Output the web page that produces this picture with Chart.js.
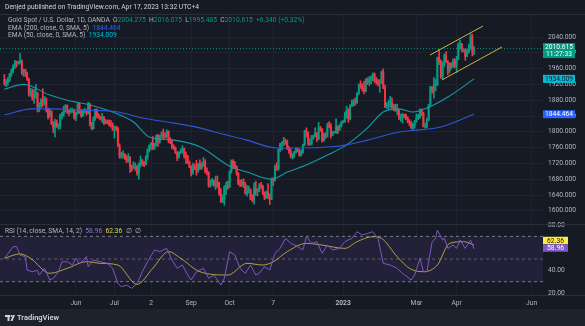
<!DOCTYPE html>
<html>
<head>
<meta charset="utf-8">
<script src="https://cdn.jsdelivr.net/npm/chart.js@4.4.0/dist/chart.umd.min.js"></script>
<style>
  html, body { margin: 0; padding: 0; background: #161a25; }
</style>
</head>
<body>
<canvas id="chart" width="585" height="326"></canvas>
<script>
// XAUUSD daily, one entry per weekday from Apr 5 2022 to Apr 17 2023
const firstOpen = 1933;
const closes = [
  1923,1925,1931,1946,1954,1966,1977,1974,1976,1979,1950,1958,1951,1932,1898,1904,1886,1894,1897,
  1864,1868,1881,1876,1883,1855,1838,1852,1821,1811,1824,1815,1816,1842,1846,1853,1866,1853,1851,1853,1855,1837,
  1848,1869,1851,1841,1852,1853,1848,1871,1819,1808,1834,1857,1840,1838,1832,1838,1822,1827,1823,1820,1818,1807,
  1811,1808,1764,1739,1740,1742,1733,1725,1735,1711,1708,1709,1711,1696,1719,1727,1719,1717,1735,1755,1766,
  1772,1760,1765,1791,1775,1789,1794,1792,1789,1802,1779,1775,1761,1758,1747,1736,1748,1751,1758,1738,1737,1723,1711,
  1697,1712,1710,1702,1718,1708,1716,1724,1702,1697,1665,1675,1675,1664,1673,1671,1644,1622,1629,1660,1661,1660,
  1699,1725,1716,1712,1695,1668,1666,1673,1667,1644,1650,1652,1629,1627,1656,1649,1652,1665,1663,1645,1634,
  1647,1635,1629,1681,1676,1712,1706,1755,1771,1771,1777,1774,1761,1751,1738,1740,1749,1755,1754,1741,1749,1768,
  1803,1797,1769,1771,1786,1789,1797,1781,1810,1807,1777,1793,1788,1817,1814,1792,1798,1798,1814,1804,1815,1824,
  1826,1839,1855,1833,1865,1872,1877,1875,1897,1920,1916,1909,1904,1932,1926,1931,1937,1946,1929,1928,1923,1928,
  1951,1912,1865,1867,1873,1875,1861,1865,1853,1854,1836,1836,1842,1841,1835,1825,1822,1811,1817,1826,
  1836,1836,1855,1847,1813,1814,1831,1868,1914,1904,1918,1919,1988,1979,1940,1970,1993,1977,1955,1973,1965,1980,1969,
  1984,2020,2021,2007,2008,1991,2003,2015,2040,2004.275,2010.615
];
const highs = [
  1945,1932,1937,1948,1959,1970,1981,1979,1979,1998,1982,1959,1958,1951,1936,1910,1908,1908,1920,
  1900,1874,1884,1909,1890,1886,1860,1858,1853,1826,1832,1830,1820,1845,1850,1865,1869,1868,1856,1860,1860,1857,
  1850,1872,1874,1856,1857,1860,1856,1875,1872,1824,1838,1858,1858,1846,1840,1847,1838,1831,1830,1830,1829,1823,
  1814,1815,1812,1770,1748,1752,1745,1740,1745,1737,1716,1724,1721,1715,1721,1739,1730,1725,1740,1757,1767,
  1773,1788,1771,1792,1794,1791,1800,1807,1798,1805,1801,1785,1780,1767,1762,1750,1750,1757,1765,1759,1749,1741,1726,
  1714,1721,1718,1728,1720,1729,1722,1735,1730,1709,1699,1678,1682,1679,1688,1688,1672,1656,1640,1664,1673,1675,
  1702,1729,1730,1725,1714,1697,1678,1679,1681,1672,1664,1663,1656,1641,1671,1675,1656,1669,1672,1665,1648,
  1650,1669,1643,1683,1684,1716,1722,1756,1771,1775,1786,1782,1779,1763,1757,1745,1751,1760,1759,1755,1754,1769,
  1804,1810,1800,1782,1791,1792,1810,1798,1824,1814,1808,1797,1798,1822,1826,1821,1801,1801,1833,1815,1819,1827,
  1829,1850,1865,1859,1869,1881,1882,1886,1899,1921,1929,1922,1928,1935,1937,1940,1942,1949,1949,1938,1933,1932,
  1954,1959,1918,1874,1880,1890,1886,1870,1870,1870,1857,1845,1847,1845,1845,1838,1831,1827,1822,1829,
  1845,1845,1858,1858,1850,1822,1835,1870,1915,1913,1937,1933,1989,2009,1982,1977,1997,2003,1980,1975,1975,1985,1985,
  1991,2025,2032,2024,2010,2009,2010,2022,2048,2047,2016.075
];
const lows = [
  1918,1914,1918,1927,1940,1950,1960,1964,1971,1971,1945,1940,1940,1930,1890,1890,1880,1872,1885,
  1850,1851,1860,1864,1868,1850,1832,1837,1818,1798,1787,1811,1806,1808,1832,1839,1850,1846,1841,1847,1849,1832,
  1828,1845,1846,1837,1838,1848,1842,1845,1815,1805,1807,1829,1835,1834,1830,1824,1818,1820,1820,1814,1812,1803,
  1784,1802,1763,1733,1733,1733,1730,1722,1723,1697,1700,1707,1702,1690,1680,1711,1715,1712,1716,1730,1749,
  1754,1755,1755,1764,1763,1771,1784,1782,1784,1785,1772,1770,1757,1755,1745,1727,1733,1744,1747,1733,1720,1719,1709,
  1688,1693,1704,1690,1697,1704,1705,1712,1696,1691,1660,1660,1665,1662,1654,1659,1639,1621,1621,1614,1641,1654,
  1659,1695,1706,1707,1690,1666,1661,1662,1659,1642,1637,1645,1628,1623,1617,1639,1638,1648,1656,1641,1628,
  1631,1631,1616,1628,1664,1675,1702,1703,1750,1754,1765,1768,1755,1745,1734,1731,1734,1746,1749,1738,1739,1745,
  1765,1787,1766,1765,1767,1781,1787,1775,1780,1801,1774,1776,1783,1787,1810,1784,1790,1797,1796,1795,1804,1812,
  1822,1824,1835,1824,1830,1864,1865,1867,1872,1895,1910,1903,1896,1901,1920,1917,1921,1929,1925,1920,1916,1900,
  1922,1909,1861,1859,1857,1862,1856,1853,1852,1843,1831,1826,1822,1835,1831,1823,1815,1808,1804,1809,
  1824,1831,1834,1841,1812,1809,1810,1828,1867,1898,1885,1903,1917,1970,1935,1933,1965,1975,1944,1949,1959,1963,1962,
  1950,1983,2010,2002,2002,1981,1990,1999,2009,1992,1995.485
];

// moving averages at a few candles
const ema200Idx = [0,16,26,45,65,79,93,112,120,139,156,169,187,196,208,227,238,250,269];
const ema200Val = [1843,1858,1858,1855,1850,1835,1825,1810,1800,1779,1759,1759,1762,1767,1779,1800,1805,1812,1844.464];
const ema50Idx = [0,11,26,36,49,62,74,83,97,112,129,139,153,162,173,185,196,208,217,226,234,242,254,269];
const ema50Val = [1908,1920,1893,1880,1868,1850,1825,1787,1779,1762,1713,1698,1680,1698,1716,1741,1767,1810,1850,1858,1850,1860,1888,1934.009];

// RSI pane
const rsiIdx = [0,5,7,9,12,13,16,19,20,23,26,28,31,33,36,39,41,43,47,48,51,55,59,62,65,67,70,73,76,79,82,86,89,93,96,99,102,105,107,110,114,117,120,124,126,129,132,135,138,141,144,146,149,152,155,158,161,164,168,171,173,176,179,182,185,188,192,195,199,202,205,208,211,214,217,221,225,228,233,235,238,240,242,245,247,248,251,252,254,257,259,261,264,267,269];
const rsiVal = [50.6,60.9,61,53.5,52,40.3,38.8,40,35.9,42,31.5,33,38.8,47.6,47.6,44.7,50.6,46,52,43.2,49,47.6,46.2,41.8,28.5,25.6,27,24.1,28.5,38.8,47.6,58,56.5,59.4,49,41.8,44.7,35.9,31.5,38.8,41.8,33,35.9,27,33,56.5,53.5,41.8,37.4,44.7,35.9,37.4,43.2,40.3,55,59.4,68.2,64,61,58,69.7,63.8,65.3,55,62.3,58,59.4,65.3,68.2,74.1,71.2,72.6,74.1,68.2,46.2,44.7,41.8,37.4,31.5,35.9,50.6,38.8,38.8,65.3,68.2,75.6,66.8,68.2,59.4,62.3,59.4,66.8,59.4,66.8,58.96];
const rsiMaIdx = [0,9,15,26,36,47,55,65,76,85,94,101,112,128,139,148,154,162,173,182,195,202,211,216,225,232,240,248,255,263,269];
const rsiMaVal = [50.6,54.5,50.6,37.4,41.8,47.6,46.2,44.7,27.6,41.8,56.5,50.6,38.8,35.9,46.2,44.7,47.6,56.5,63.8,62.3,59.4,65.3,69.7,68.2,52,41.8,38.8,44.7,63.8,65.3,62.36];
const rsiLevels = [70, 50, 30];

// drawn channel (candle index, price)
const channelUpperX = [243.8, 274.1];
const channelUpperY = [1994.4, 2067.8];
const channelLowerX = [250.6, 285];
const channelLowerY = [1931.1, 2014.7];

const priceTicks = [1600,1640,1680,1720,1760,1800,1840,1880,1920,1960,2000,2040];
const rsiTicks = [20, 40, 60, 80];
const timeTickIdx = [41, 63, 84, 107, 129, 154, 194, 236, 259, 302];
const timeTickText = ['Jun', 'Jul', '2', 'Sep', 'Oct', '7', '2023', 'Mar', 'Apr', 'Jun'];

if (highs.length !== closes.length || lows.length !== closes.length) {
  throw new Error('length mismatch ' + closes.length + ' ' + highs.length + ' ' + lows.length);
}

const BG = '#161a25';
const GRID = '#1f2330';
const TEXT = '#b2b5be';
const UP = '#089981';
const DOWN = '#f23645';
const FONT = 'Roboto, "Liberation Sans", sans-serif';
const FS = 6.7;

const opens = closes.map((c, i) => i === 0 ? firstOpen : closes[i - 1]);
const candleColors = closes.map((c, i) => c >= opens[i] ? UP : DOWN);
const wickData = closes.map((c, i) => ({x: i, y: [Math.min(lows[i], opens[i], c), Math.max(highs[i], opens[i], c)]}));
const bodyData = closes.map((c, i) => ({x: i, y: [opens[i], c]}));

const pts = (xs, ys) => xs.map((x, i) => ({x: x, y: ys[i]}));
const last = closes.length - 1;
const xMin = -2.5, xMax = 308.5;

function segments(ctx, x, y, parts) {
  parts.forEach(p => {
    ctx.fillStyle = p[1];
    ctx.fillText(p[0], x, y);
    x += ctx.measureText(p[0]).width;
  });
}

function valueBox(ctx, x, yc, w, h, bg, fg, text) {
  ctx.fillStyle = bg;
  ctx.fillRect(x, yc - h / 2, w, h);
  ctx.fillStyle = fg;
  ctx.textAlign = 'center';
  ctx.fillText(text, x + w / 2, yc + 0.5);
  ctx.textAlign = 'left';
}

const decor = {
  id: 'decor',
  beforeDraw(chart) {
    const {ctx, chartArea: a, scales} = chart;
    ctx.save();
    ctx.fillStyle = BG;
    ctx.fillRect(0, 0, chart.width, chart.height);
    const r = scales.rsi;
    const y70 = r.getPixelForValue(rsiLevels[0]);
    const y30 = r.getPixelForValue(rsiLevels[2]);
    ctx.fillStyle = 'rgba(126,87,194,0.13)';
    ctx.fillRect(a.left, y70, a.right - a.left, y30 - y70);
    ctx.restore();
  },
  afterDraw(chart) {
    const {ctx, chartArea: a, scales} = chart;
    ctx.save();
    ctx.font = FS + 'px ' + FONT;
    ctx.textBaseline = 'middle';

    // pane separators
    ctx.strokeStyle = '#2a2e39';
    ctx.lineWidth = 1;
    ctx.beginPath();
    ctx.moveTo(0, a.top - 0.5); ctx.lineTo(chart.width, a.top - 0.5);
    ctx.moveTo(0, Math.round(scales.y.bottom) + 0.5); ctx.lineTo(chart.width, Math.round(scales.y.bottom) + 0.5);
    ctx.moveTo(0, a.bottom + 0.5); ctx.lineTo(chart.width, a.bottom + 0.5);
    ctx.stroke();

    // footer
    const fy = scales.x.bottom;
    ctx.fillStyle = '#1e222d';
    ctx.fillRect(0, fy, chart.width, chart.height - fy);
    ctx.fillStyle = '#d1d4dc';
    ctx.fillRect(5, fy + 6, 5, 2);
    ctx.fillRect(7.5, fy + 6, 2, 6);
    ctx.beginPath(); ctx.arc(11.5, fy + 7, 1.1, 0, Math.PI * 2); ctx.fill();
    ctx.beginPath();
    ctx.moveTo(10.5, fy + 12); ctx.lineTo(13, fy + 6); ctx.lineTo(15, fy + 6); ctx.lineTo(12.5, fy + 12);
    ctx.closePath(); ctx.fill();
    ctx.font = '600 7.5px ' + FONT;
    ctx.fillText('TradingView', 17, fy + 9);
    ctx.font = FS + 'px ' + FONT;

    // header lines
    segments(ctx, 5, 7, [['Denjed published on TradingView.com, Apr 17, 2023 13:32 UTC+4', '#d1d4dc']]);
    const chg = closes[last] - closes[last - 1];
    const pct = chg / closes[last - 1] * 100;
    segments(ctx, 8, 20, [
      ['Gold Spot / U.S. Dollar, 1D, OANDA  ', TEXT],
      ['O', TEXT], [opens[last].toFixed(3), UP],
      ['  H', TEXT], [highs[last].toFixed(3), UP],
      ['  L', TEXT], [lows[last].toFixed(3), UP],
      ['  C', TEXT], [closes[last].toFixed(3), UP],
      ['  +' + chg.toFixed(3) + ' (+' + pct.toFixed(2) + '%)', UP]
    ]);
    segments(ctx, 8, 28, [['EMA (200, close, 0, SMA, 5)  ', TEXT], [ema200Val[ema200Val.length - 1].toFixed(3), '#2962ff']]);
    segments(ctx, 8, 35.5, [['EMA (50, close, 0, SMA, 5)  ', TEXT], [ema50Val[ema50Val.length - 1].toFixed(3), '#00bcd4']]);
    const rsiLast = rsiVal[rsiVal.length - 1], maLast = rsiMaVal[rsiMaVal.length - 1];
    segments(ctx, 5, scales.rsi.top + 7, [
      ['RSI (14, close, SMA, 14, 2)  ', TEXT], [rsiLast.toFixed(2), '#9575cd'],
      ['  ', TEXT], [maLast.toFixed(2), '#e5d84a'], ['  \u2205  \u2205', TEXT]
    ]);

    // price scale value boxes
    const bx = a.right;
    const yp = scales.y.getPixelForValue(closes[last]);
    ctx.fillStyle = UP;
    ctx.fillRect(bx, yp - 5.5, 32, 15);
    ctx.fillStyle = '#ffffff';
    ctx.textAlign = 'center';
    ctx.fillText(closes[last].toFixed(3), bx + 16, yp - 1.5);
    ctx.fillText('11:27:33', bx + 16, yp + 5.5);
    ctx.textAlign = 'left';
    valueBox(ctx, bx, scales.y.getPixelForValue(ema50Val[ema50Val.length - 1]), 32, 8, '#00bcd4', '#131722', ema50Val[ema50Val.length - 1].toFixed(3));
    valueBox(ctx, bx, scales.y.getPixelForValue(ema200Val[ema200Val.length - 1]), 32, 8, '#2962ff', '#ffffff', ema200Val[ema200Val.length - 1].toFixed(3));
    const yMa = scales.rsi.getPixelForValue(maLast) - 4.5;
    valueBox(ctx, bx, yMa, 25, 7.5, '#ffeb3b', '#131722', maLast.toFixed(2));
    valueBox(ctx, bx, yMa + 7.5, 25, 7.5, '#7e57c2', '#ffffff', rsiLast.toFixed(2));
    ctx.restore();
  }
};

const flat = v => [{x: xMin, y: v}, {x: xMax, y: v}];

new Chart(document.getElementById('chart'), {
  type: 'bar',
  data: {
    datasets: [
      {label: 'wick', data: wickData, backgroundColor: candleColors, barThickness: 1, grouped: false, yAxisID: 'y', order: 6},
      {label: 'body', data: bodyData, backgroundColor: candleColors, barThickness: 1.3, minBarLength: 1, grouped: false, yAxisID: 'y', order: 5},
      {type: 'line', label: 'last', data: flat(closes[last]), borderColor: UP, borderWidth: 1, borderDash: [1, 2], pointRadius: 0, yAxisID: 'y', order: 9},
      {type: 'line', label: 'EMA 200', data: pts(ema200Idx, ema200Val), borderColor: '#2f56d8', borderWidth: 1.1, pointRadius: 0, cubicInterpolationMode: 'monotone', yAxisID: 'y', order: 3},
      {type: 'line', label: 'EMA 50', data: pts(ema50Idx, ema50Val), borderColor: '#139aa8', borderWidth: 1.1, pointRadius: 0, cubicInterpolationMode: 'monotone', yAxisID: 'y', order: 3},
      {type: 'line', label: 'channel up', data: pts(channelUpperX, channelUpperY), borderColor: '#c9b441', borderWidth: 1, pointRadius: 0, yAxisID: 'y', order: 2},
      {type: 'line', label: 'channel down', data: pts(channelLowerX, channelLowerY), borderColor: '#c9b441', borderWidth: 1, pointRadius: 0, yAxisID: 'y', order: 2},
      {type: 'line', label: 'lvl70', data: flat(rsiLevels[0]), borderColor: '#787b86', borderWidth: 1, borderDash: [3, 3], pointRadius: 0, yAxisID: 'rsi', order: 10},
      {type: 'line', label: 'lvl50', data: flat(rsiLevels[1]), borderColor: '#5d606b', borderWidth: 1, borderDash: [3, 3], pointRadius: 0, yAxisID: 'rsi', order: 10},
      {type: 'line', label: 'lvl30', data: flat(rsiLevels[2]), borderColor: '#787b86', borderWidth: 1, borderDash: [3, 3], pointRadius: 0, yAxisID: 'rsi', order: 10},
      {type: 'line', label: 'RSI MA', data: pts(rsiMaIdx, rsiMaVal), borderColor: 'rgba(226,208,70,0.72)', borderWidth: 1, pointRadius: 0, cubicInterpolationMode: 'monotone', yAxisID: 'rsi', order: 1},
      {type: 'line', label: 'RSI', data: pts(rsiIdx, rsiVal), borderColor: '#7e57c2', borderWidth: 1, pointRadius: 0, tension: 0, yAxisID: 'rsi', order: 0}
    ]
  },
  options: {
    responsive: false,
    animation: false,
    events: [],
    layout: {padding: {top: 15, bottom: 17, left: 0, right: 0}},
    plugins: {legend: {display: false}, tooltip: {enabled: false}},
    scales: {
      x: {
        type: 'linear', min: xMin, max: xMax, offset: false,
        grid: {color: GRID, drawTicks: false, offset: false},
        border: {display: false},
        afterBuildTicks: axis => { axis.ticks = timeTickIdx.map(v => ({value: v})); },
        afterFit: s => { s.height = 14; },
        ticks: {
          autoSkip: false, maxRotation: 0, padding: 4, color: TEXT,
          font: c => ({family: FONT, size: FS, weight: timeTickText[timeTickIdx.indexOf(c.tick ? c.tick.value : -1)] === '2023' ? 'bold' : 'normal'}),
          callback: v => timeTickText[timeTickIdx.indexOf(v)]
        }
      },
      y: {
        position: 'right', stack: 'pane', stackWeight: 209, weight: 0,
        min: 1566.6, max: 2095.7,
        grid: {color: GRID, drawTicks: false},
        border: {display: false},
        afterBuildTicks: axis => { axis.ticks = priceTicks.map(v => ({value: v})); },
        afterFit: s => { s.width = 42; },
        ticks: {autoSkip: false, padding: 5, color: TEXT, font: {family: FONT, size: FS}, callback: v => v.toFixed(3)}
      },
      rsi: {
        axis: 'y', position: 'right', stack: 'pane', stackWeight: 71, weight: 1,
        min: 18.25, max: 80.9,
        grid: {display: false, drawTicks: false},
        border: {display: false},
        afterBuildTicks: axis => { axis.ticks = rsiTicks.map(v => ({value: v})); },
        afterFit: s => { s.width = 42; },
        ticks: {autoSkip: false, padding: 5, color: TEXT, font: {family: FONT, size: FS}, callback: v => v.toFixed(2)}
      }
    }
  },
  plugins: [decor]
});
</script>
</body>
</html>
